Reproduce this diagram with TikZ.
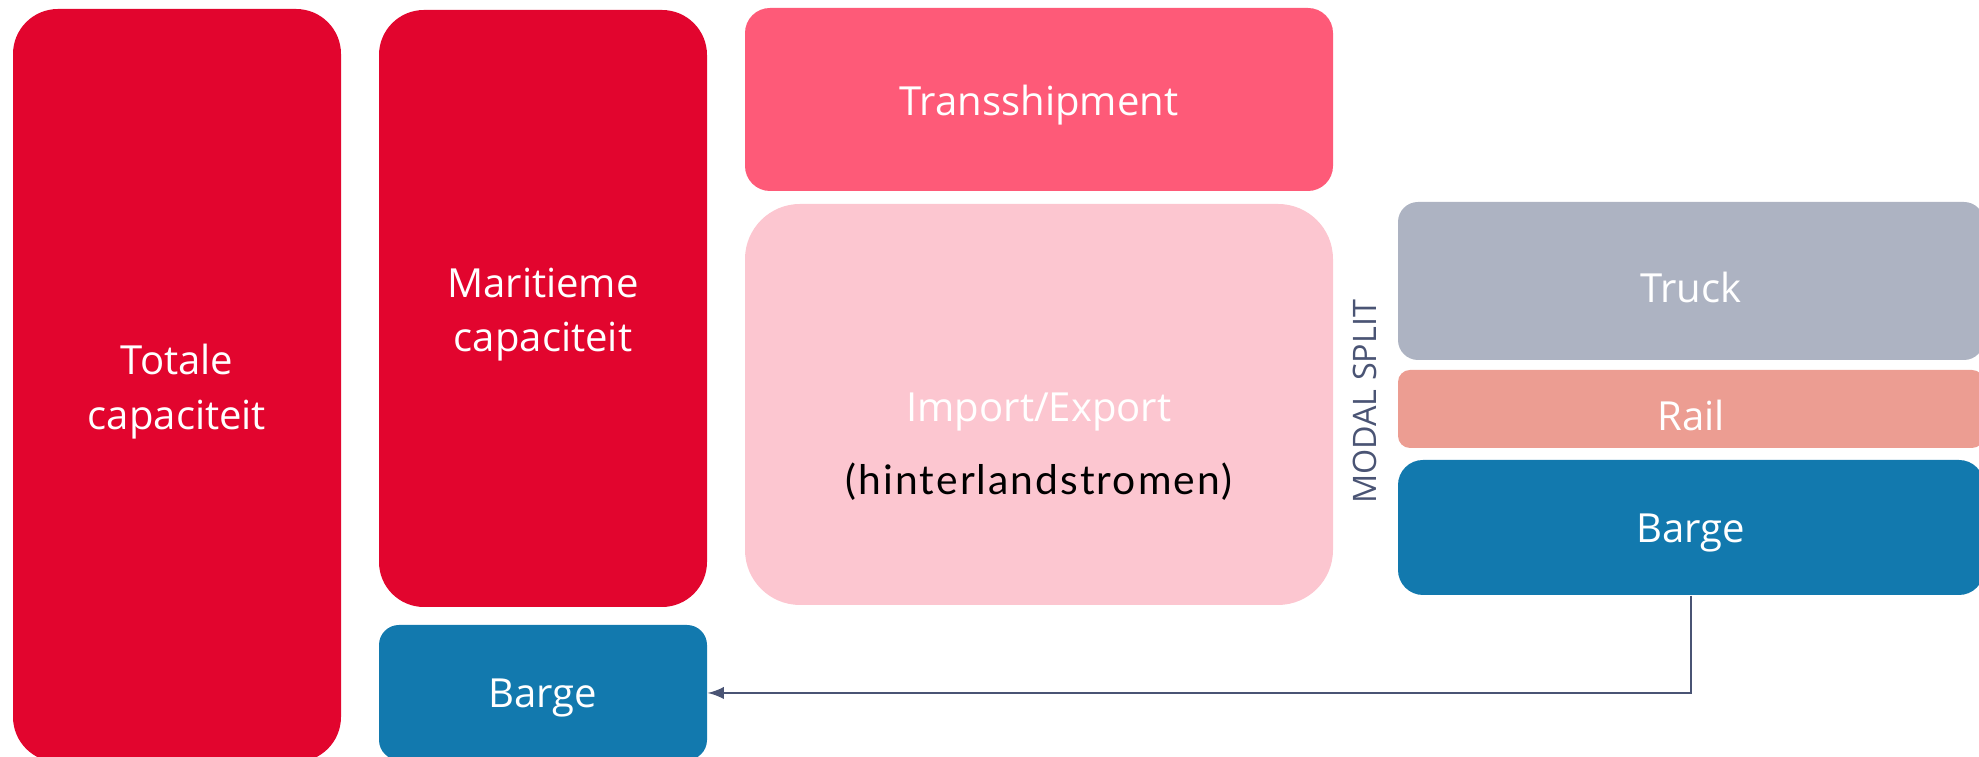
\documentclass[tikz,border=0pt]{standalone}
\usepackage{fontspec}
\usepackage{xcolor}
\usepackage{tikz}
\setmainfont{Open Sans}
\newfontfamily\hintfont[LetterSpace=5]{Lato}
\newcommand{\dn}[1]{\raisebox{-0.06cm}[\height][\depth]{#1}}

\definecolor{capred}{HTML}{E2052E}
\definecolor{transpink}{HTML}{FE5A78}
\definecolor{imppink}{HTML}{FCC6D0}
\definecolor{truckgray}{HTML}{ADB3C2}
\definecolor{railrose}{HTML}{EC9D92}
\definecolor{bargeblue}{HTML}{1279AE}
\definecolor{slate}{HTML}{4A5474}

\begin{document}
\begin{tikzpicture}[
    box/.style={rectangle, fill=#1, text=white, align=center, inner sep=0pt,
        font=\fontsize{11.4pt}{15.5pt}\selectfont},
    arrow/.style={->, line width=0.6pt, draw=slate},
    >=latex
]
\useasboundingbox (0,0) rectangle (19.79,7.57);
\clip (0,0) rectangle (19.79,7.57);

% Capacity columns
\node[box=capred, rounded corners=0.45cm, minimum width=3.28cm, minimum height=7.53cm] (tot) at (1.77,3.715) {\dn{Totale}\\\dn{capaciteit}};
\node[box=capred, rounded corners=0.45cm, minimum width=3.28cm, minimum height=5.97cm] (mar) at (5.43,4.485) {\dn{Maritieme}\\\dn{capaciteit}};
\node[box=bargeblue, rounded corners=0.2cm, minimum width=3.28cm, minimum height=1.35cm] (bargeL) at (5.43,0.645) {\dn{Barge}};

% Flows
\node[box=transpink, rounded corners=0.25cm, minimum width=5.88cm, minimum height=1.83cm] (trans) at (10.39,6.575) {\dn{Transshipment}};
\node[box=imppink, rounded corners=0.55cm, minimum width=5.88cm, minimum height=4.01cm] (impexp) at (10.39,3.525) {};
\node[anchor=base, text=white, font=\fontsize{11.4pt}{15.5pt}\selectfont] (imptxt) at ([yshift=-0.175cm]impexp.center) {Import/Export};
\node[anchor=base, text=black, font=\hintfont\fontsize{11.6pt}{15.5pt}\selectfont] (hinttxt) at ([yshift=-0.905cm]impexp.center) {(hinterlandstromen)};

% Modal split
\node[rotate=90, text=slate, font=\fontsize{9.2pt}{11pt}\selectfont] (modal) at (13.65,3.55) {MODAL SPLIT};
\node[box=truckgray, rounded corners=0.2cm, minimum width=5.86cm, minimum height=1.58cm] (truck) at (16.91,4.76) {\dn{Truck}};
\node[box=railrose, rounded corners=0.12cm, minimum width=5.86cm, minimum height=0.78cm] (rail) at (16.91,3.48) {\dn{Rail}};
\node[box=bargeblue, rounded corners=0.25cm, minimum width=5.86cm, minimum height=1.35cm] (bargeR) at (16.91,2.295) {\dn{Barge}};

% Connection
\coordinate (bend) at (16.91,0.64);
\draw[arrow] (bargeR.south) -- (bend) -- (bend -| bargeL.east);

\end{tikzpicture}
\end{document}
